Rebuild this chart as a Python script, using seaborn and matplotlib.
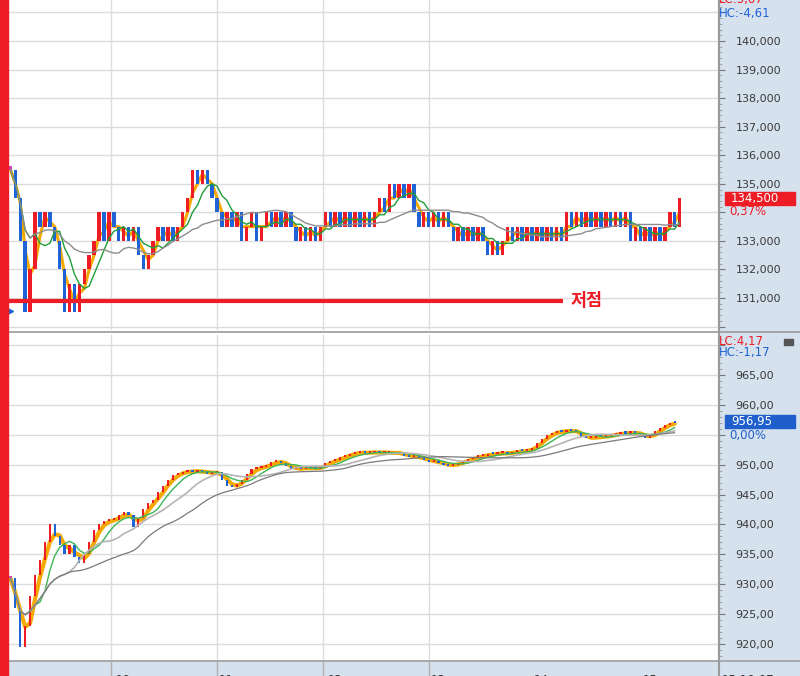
import matplotlib
matplotlib.use("Agg")
import matplotlib.pyplot as plt
import matplotlib.transforms as mtransforms
from matplotlib.patches import Rectangle
from matplotlib.ticker import FuncFormatter, MultipleLocator
import numpy as np
import pandas as pd
import seaborn as sns

# --- data (one value per bar) ---
stock_close = [
    135500, 134500, 133000, 130500, 132000,
    134000, 133500, 134000, 133500,
    133000, 132000, 130500, 131500, 130500,
    131500, 132000, 132500, 133000,
    134000, 133000, 134000,
    133500, 133000, 133500, 133000, 133500,
    132500, 132000, 132500, 133000,
    133500, 133000, 133500, 133000, 133500,
    134000, 134500,
    135500, 135000, 135500, 135000,
    134500, 134000, 133500, 134000, 133500,
    134000, 133000, 133500, 134000, 133000,
    133500, 134000, 133500, 134000, 133500, 134000, 133500,
    133000, 133500, 133000, 133500, 133000,
    133500, 134000, 133500, 134000, 133500, 134000, 133500, 134000, 133500, 134000, 133500,
    134000, 134500, 134000,
    135000, 134500, 135000, 134500, 135000,
    134000, 133500, 134000, 133500, 134000, 133500, 134000, 133500,
    133000, 133500, 133000, 133500, 133000, 133500, 133000,
    132500, 133000, 132500,
    133000, 133500, 133000, 133500, 133000, 133500, 133000, 133500, 133000, 133500, 133000, 133500, 133000,
    134000, 133500, 134000, 133500, 134000, 133500, 134000, 133500, 134000, 133500, 134000, 133500, 134000,
    133000, 133500, 133000, 133500, 133000, 133500, 133000, 133500,
    134000, 133500, 134500,
]

index_close = [
    931.0,
    926.0, 919.5,
    923.0,
    928.0, 931.5,
    934.0, 937.0, 940.0,
    938.0, 936.5,
    935.0,
    936.5,
    934.5, 933.5,
    935.0, 937.0, 939.0, 940.0,
    940.5, 940.7, 940.8,
    941.5, 942.0, 941.5, 939.5,
    941.0, 942.5, 943.5, 944.0,
    945.5, 946.5, 947.5, 948.3,
    948.5, 948.8, 949.0, 948.7, 949.0,
    948.8, 948.5, 948.6, 948.8,
    947.5, 946.5, 946.2, 946.8,
    947.5, 948.5, 949.2,
    949.5, 949.6, 949.8,
    950.4, 950.6, 950.3,
    949.8, 949.2,
    949.4, 949.3, 949.5, 949.4, 949.3, 949.6,
    950.3, 950.6, 950.8, 951.2, 951.5, 951.8, 952.0,
    952.1, 951.9, 952.0, 952.2, 951.9, 952.0, 952.1, 951.8, 952.0,
    951.5, 951.3, 951.4, 951.1,
    950.8, 950.5, 950.6, 950.2,
    950.0, 949.8, 950.0, 950.3,
    950.6, 950.9, 951.2,
    951.4, 951.5, 951.8, 951.7, 951.9, 952.0, 951.8,
    952.1, 952.3, 952.2, 952.4, 952.8,
    953.6, 954.3, 955.0,
    955.3, 955.6, 955.5, 955.7, 955.6, 955.5,
    954.6, 954.4,
    954.5, 954.7, 954.6, 954.8, 955.0, 955.1, 955.3, 955.2, 955.4, 955.3,
    955.0, 954.4, 954.9,
    955.6, 956.2, 956.6, 957.0, 956.95,
]

time_labels = ["07/25", "10", "11", "12", "13", "14", "15"]
time_label_bars = [0, 21, 42, 64, 85, 106, 128]
grid_bars = [20.5, 42, 63.5, 85]

stock_last = "134,500"
stock_pct = "0,37%"
stock_lc, stock_hc = "LC:5,07", "HC:-4,61"
index_last = "956,95"
index_pct = "0,00%"
index_lc, index_hc = "LC:4,17", "HC:-1,17"
low_price = 130900
low_label = "저점"

# tick labels hidden under the last-price labels
stock_hidden = [134000]
index_hidden = [955]

# --- style ---
sns.set_style("white")
plt.rcParams["font.family"] = ["DejaVu Sans", "Noto Sans CJK KR"]

RED = "#ee1c25"
BLUE = "#1f63d6"
MAGENTA = "#e03cc0"
ORANGE = "#f5a900"
GREEN = "#1f9e3a"
PANEL = "#d6e1ee"
GRID = "#dcdcdc"

W, H = 800, 676
fig = plt.figure(figsize=(8, 6.76), dpi=100)


def fx(px):
    return px / W


def fy(py):
    return 1 - py / H


# right scale panel and bottom time strip (behind the axes)
fig.patches.append(Rectangle((fx(719), 0), 1 - fx(719), 1, transform=fig.transFigure,
                             color=PANEL, zorder=-2))
fig.patches.append(Rectangle((fx(8), 0), 1 - fx(8), 16 / H, transform=fig.transFigure,
                             color=PANEL, zorder=-2))

ax_top = fig.add_axes([fx(8), fy(330), 711 / W, 330 / H])
ax_bot = fig.add_axes([fx(8), fy(660), 711 / W, 325 / H])


def draw_candles(ax, closes, min_h, width):
    closes = np.asarray(closes, dtype=float)
    opens = np.r_[closes[0], closes[:-1]]
    xs = np.arange(len(closes))
    lo = np.minimum(opens, closes)
    hi = np.maximum(opens, closes)
    h = np.maximum(hi - lo, min_h)
    cols = [RED if c > o else (BLUE if c < o else MAGENTA) for o, c in zip(opens, closes)]
    ax.bar(xs, h, bottom=lo, width=width, color=cols, linewidth=0, zorder=3)


def draw_ma(ax, closes, spec):
    s = pd.Series(closes, dtype=float)
    for win, col, lw, z in spec:
        ma = s.rolling(win, min_periods=1).mean()
        sns.lineplot(x=np.arange(len(s)), y=ma.values, ax=ax, color=col,
                     linewidth=lw, errorbar=None, legend=False, zorder=z)


# top panel: stock
draw_ma(ax_top, stock_close, [(3, ORANGE, 2.2, 2)])
draw_candles(ax_top, stock_close, 120, 0.7)
draw_ma(ax_top, stock_close, [(6, GREEN, 1.0, 4), (20, "#8c8c8c", 1.0, 4)])
ax_top.hlines(low_price, -0.5, 112.3, color=RED, lw=3, zorder=5)
ax_top.text(113.8, low_price, low_label, color=RED, fontsize=12.5, fontweight="bold",
            family=["Noto Sans CJK KR", "DejaVu Sans"], va="center", ha="left", zorder=6)
ax_top.plot([-0.2], [130550], marker=">", ms=6, color=BLUE, zorder=6, clip_on=False)
ax_top.set_ylim(129880, 141436)
ax_top.yaxis.set_major_locator(MultipleLocator(1000))
ax_top.yaxis.set_minor_locator(MultipleLocator(200))
ax_top.yaxis.set_major_formatter(FuncFormatter(
    lambda v, p: f"{int(round(v)):,}"
    if 131000 <= v <= 140000 and int(round(v)) not in stock_hidden else ""))

# bottom panel: index
draw_ma(ax_bot, index_close, [(3, ORANGE, 3.0, 2)])
draw_candles(ax_bot, index_close, 0.35, 0.45)
draw_ma(ax_bot, index_close, [(6, "#3cb55a", 1.0, 4), (12, "#b4b4b4", 1.2, 4),
                              (25, "#7a7a7a", 0.9, 4)])
ax_bot.set_ylim(917.3, 971.7)
ax_bot.yaxis.set_major_locator(MultipleLocator(5))
ax_bot.yaxis.set_minor_locator(MultipleLocator(1))
ax_bot.yaxis.set_major_formatter(FuncFormatter(
    lambda v, p: f"{v:.2f}".replace(".", ",")
    if 920 <= v <= 965 and int(round(v)) not in index_hidden else ""))

for ax in (ax_top, ax_bot):
    ax.set_xlim(-0.5, 144)
    ax.set_facecolor("white")
    ax.yaxis.tick_right()
    ax.set_xticks(grid_bars)
    ax.set_xticklabels([])
    ax.set_xlabel("")
    ax.set_ylabel("")
    ax.tick_params(axis="x", length=0)
    ax.tick_params(axis="y", which="major", length=4, width=0.8, color="#777777",
                   pad=8, labelsize=8, labelcolor="#3a3a3a")
    ax.tick_params(axis="y", which="minor", length=2, width=0.6, color="#999999")
    ax.grid(True, which="major", color=GRID, lw=1, zorder=0)
    ax.set_axisbelow(True)
    for side in ("top", "left", "bottom"):
        ax.spines[side].set_visible(False)
    ax.spines["right"].set_color("#9a9a9a")
    ax.spines["right"].set_linewidth(1.5)

# panel separators and borders
fig.add_artist(plt.Line2D([fx(8), 1], [fy(332), fy(332)], color="#9a9a9a", lw=1.2))
fig.add_artist(plt.Line2D([fx(8), 1], [fy(660.5), fy(660.5)], color="#a0a0a0", lw=1.2))
fig.add_artist(plt.Line2D([fx(719), fx(719)], [0, 1], color="#9a9a9a", lw=1.5))

# bottom time strip labels (mostly cut off by the window edge)
blend = mtransforms.blended_transform_factory(ax_bot.transData, fig.transFigure)
for b, lab in zip(time_label_bars, time_labels):
    fig.text(b + 0.4, fy(674.5), lab, transform=blend, fontsize=8.5, color="#333333",
             va="top", ha="left")
for b in grid_bars:
    fig.add_artist(plt.Line2D([b, b], [0, fy(660.5)], transform=blend, color="#b0b0b0", lw=1))
fig.text(fx(722), fy(674.5), "15:10:07", fontsize=8.5, color="#333333", va="top", ha="left")

# last-price boxes and labels on the scale
for ax, price, h_data, col, txt, pct in (
        (ax_top, 134500, 455, RED, stock_last, stock_pct),
        (ax_bot, 957.15, 2.17, "#1f5fcc", index_last, index_pct)):
    tr = mtransforms.blended_transform_factory(fig.transFigure, ax.transData)
    ax.add_patch(Rectangle((fx(725), price - h_data / 2), fx(70), h_data, transform=tr,
                           color=col, clip_on=False, zorder=10))
    ax.text(fx(731), price, txt, transform=tr, color="white", fontsize=8.5,
            va="center", ha="left", zorder=11, clip_on=False)
    ax.text(fx(729), price - h_data * 1.02, pct, transform=tr, color=col, fontsize=8.5,
            va="center", ha="left", zorder=11, clip_on=False)

fig.text(fx(719), fy(-1), stock_lc, color=RED, fontsize=8.5, va="center", ha="left")
fig.text(fx(719), fy(13), stock_hc, color=BLUE, fontsize=8.5, va="center", ha="left")
fig.text(fx(719), fy(341), index_lc, color=RED, fontsize=8.5, va="center", ha="left")
fig.text(fx(719), fy(352.5), index_hc, color=BLUE, fontsize=8.5, va="center", ha="left")
fig.patches.append(Rectangle((fx(784), fy(345)), fx(9), 6 / H, transform=fig.transFigure,
                             color="#555555", zorder=5))

# red stripe along the left edge
fig.patches.append(Rectangle((0, 0), fx(8), 1, transform=fig.transFigure, color=RED, zorder=20))

fig.savefig("out.png", dpi=100)
